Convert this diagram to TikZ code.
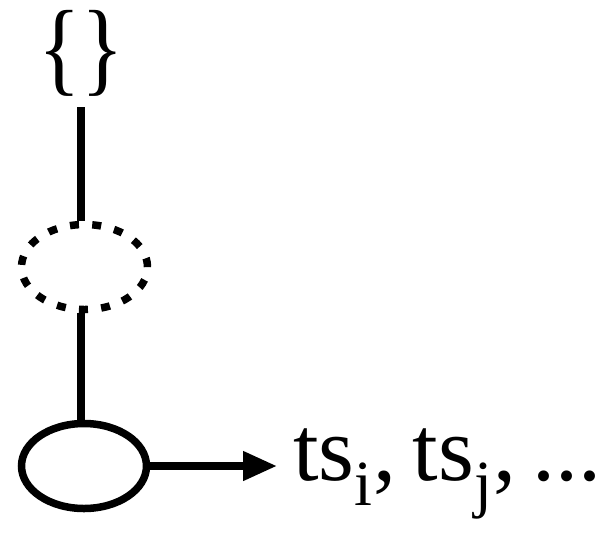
\documentclass[tikz,border=0pt]{standalone}
\usepackage{fontspec}
\setmainfont{Liberation Serif}
\newfontfamily\labelfont[WordSpace=0.7]{Liberation Serif}
\newfontfamily\bracefont[FakeStretch=0.85]{Liberation Serif}
\usepackage{tikz}
\usetikzlibrary{arrows.meta, positioning, shapes.geometric}
\tikzset{%
	every state/.style={
		ellipse,
		draw,
		line width=3.75pt,
		minimum width=62.5pt,
		minimum height=42.5pt
	},
	state hidden/.style={
		every state,
		dash pattern=on 4.5pt off 6.65pt
	},
	big text/.style={
		font=\labelfont\fontsize{46}{54}\selectfont,
		inner sep=0pt
	},
	link/.style={
		line width=3.75pt
	},
}
\begin{document}
\begin{tikzpicture}[x=0.5pt, y=-0.5pt]
	% Fix the frame to the size of the original
	\useasboundingbox (0,0) rectangle (606,538);
	
	% Empty set on top
	\node[big text, font=\bracefont\fontsize{52}{58}\selectfont, inner ysep=5.5pt, anchor=base] (empty) at (81,82) {\{\}};
	
	% The two states
	\node[state hidden, minimum width=63pt] (hidden) at (84.5,267) {};
	\node[every state] (root) at (84,466) {};
	
	% Output of the last state
	\node[big text, inner xsep=8pt, anchor=base west] (out) at (277,480) {ts\textsubscript{i}, ts\textsubscript{j}, ...};
	
	% Connections
	\draw[link] (empty.south) -- (empty.south |- hidden.north);
	\draw[link] (empty.south |- hidden.south) -- (empty.south |- root.north);
	\draw[link, -{Triangle[length=17pt, width=14pt]}] (root.east) -- (out.west |- root.east);
\end{tikzpicture}
\end{document}
